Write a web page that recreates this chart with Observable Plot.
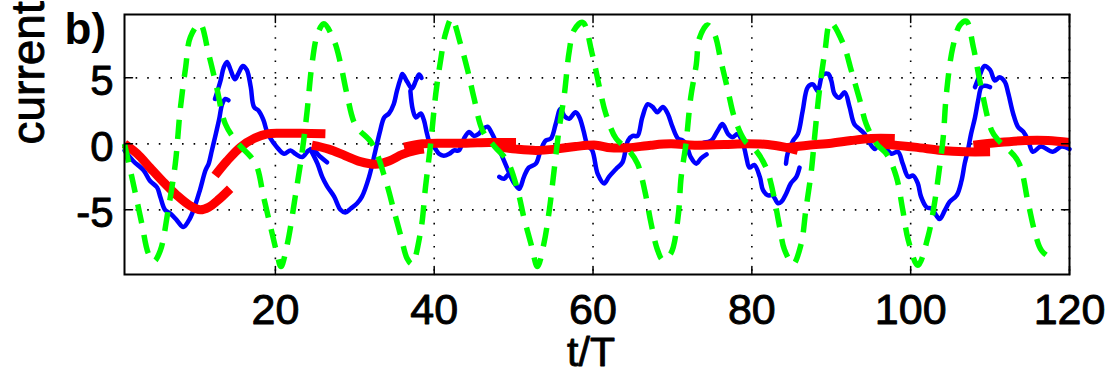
<!DOCTYPE html>
<html>
<head>
<meta charset="utf-8">
<script src="https://cdn.jsdelivr.net/npm/d3@7"></script>
<script src="https://cdn.jsdelivr.net/npm/@observablehq/plot@0.6"></script>
<style>
  html, body { margin: 0; padding: 0; background: #fff; }
  #chart { width: 1111px; height: 373px; }
</style>
</head>
<body>
<div id="chart"></div>
<script>
// ---- axis ticks ----
const xTicks = [20, 40, 60, 80, 100, 120];
const yTicks = [-5, 0, 5];
const xDomain = [1, 120];
const yDomain = [-9.9, 9.8];
const panelLabel = "b)";
const xLabel = "t/T";
const yLabel = "current";

// ---- green dashed drive (t, value) ----
const green = [
  [1,0],[2.1,-3.0],[3.2,-6.1],[4.0,-8.3],[4.7,-8.9],[5.5,-8.1],[6.5,-5.0],[7.4,-1.5],[8.0,2.5],[8.7,5.8],
  [9.3,8.1],[10.5,9.1],[11.6,6.8],[12.6,4.3],[13.7,1.5],[15.2,0.1],[17.5,-1.5],[18.5,-4.0],[19.4,-6.3],
  [20.2,-8.3],[20.7,-9.3],[21.5,-7.6],[22.5,-4.0],[23.4,-0.5],[24.0,2.5],[24.6,6.0],[25.3,8.3],[26.1,9.1],
  [27.4,7.8],[28.2,6.1],[29.0,3.8],[30.1,1.4],[32.2,0.0],[33.9,-2.8],[34.9,-5.0],[35.8,-7.0],[36.6,-8.7],
  [37.2,-9.1],[38.3,-6.6],[38.9,-3.3],[39.55,0],[40.2,3.8],[40.8,6.3],[41.4,8.3],[42.2,9.5],[43.3,7.6],
  [44.2,5.6],[45.0,3.5],[46.1,1.0],[47.6,-0.2],[49.2,-1.3],[50.5,-3.5],[51.3,-5.6],[52.2,-7.6],[53.0,-9.3],
  [53.8,-7.6],[54.5,-5.0],[55.1,-2.0],[55.7,1.0],[56.4,3.8],[57.0,7.0],[57.6,8.6],[58.7,9.2],[59.9,6.8],
  [60.8,4.3],[61.6,2.3],[62.9,0.4],[64.5,-0.5],[65.6,-1.5],[66.5,-3.5],[67.3,-6.0],[68.1,-8.0],[68.8,-8.8],
  [69.8,-8.3],[70.7,-5.6],[71.1,-2.5],[71.7,0],[72.3,3.5],[73.0,6.0],[73.4,8.0],[74.4,9.0],[75.3,8.3],
  [76.1,6.3],[77.0,4.0],[77.8,2.0],[79.1,0.25],[80.5,-0.5],[81.8,-1.8],[82.6,-3.5],[83.5,-6.3],[84.1,-8.0],
  [85.2,-9.1],[86.2,-7.6],[86.8,-5.0],[87.5,-2.0],[87.9,0.5],[88.5,4.0],[89.2,7.0],[89.9,9.2],[91.5,7.6],
  [92.5,5.6],[93.6,3.3],[94.4,1.5],[95.7,0],[97.0,-0.8],[98.2,-2.5],[99.0,-5.0],[99.7,-7.3],[100.9,-9.2],
  [102.2,-7.0],[103.0,-4.5],[103.7,-1.5],[104.1,0.5],[104.5,3.8],[105.3,7.3],[106.2,9.0],[107.0,9.3],
  [107.9,7.3],[108.7,4.8],[110.2,1.0],[111.0,0.3],[113.5,-1.3],[114.8,-4.5],[115.6,-6.6],[116.5,-8.1],[118.0,-8.8]
];

// ---- blue current, in separate pieces ----
const blue1 = [[1,-0.5],[2.1,-1.3],[3.4,-2.0],[4.2,-2.8],[5.1,-3.3],[5.5,-4.0],[6.1,-5.0],[6.8,-5.3],[7.6,-5.8],
  [8.4,-6.3],[9.1,-5.8],[9.7,-5.0],[10.5,-3.5],[11.2,-2.0],[11.6,-1.5],[12.0,-0.5],[12.4,0.5],[12.9,1.8],
  [13.3,3.0],[13.7,3.4],[14.1,3.3]];
const blue2 = [[12.4,3.4],[13.1,4.8],[13.5,5.8],[13.9,6.2],[14.3,5.7],[14.9,4.9],[15.4,5.4],[15.9,5.9],[16.4,5.6],
  [16.9,4.3],[17.3,2.8],[17.9,2.5],[18.5,1.8],[18.9,1.0],[19.4,0.4],[20.2,-0.25],[21.1,-0.75],[21.9,-0.5],
  [22.5,-0.75],[23.4,-1.0],[24.2,-0.5],[24.8,-0.5],[25.7,-1.0],[26.5,-1.4]];
const blue3 = [[24.4,-0.4],[25.3,-1.5],[25.9,-2.5],[26.5,-3.2],[27.4,-4.0],[28.2,-5.0],[28.8,-5.2],[29.5,-4.9],
  [30.3,-4.5],[30.9,-4.0],[31.8,-2.5],[32.6,-0.5],[33.2,1.0],[33.7,2.0],[34.3,2.3],[34.9,3.0],[35.3,4.0],
  [35.8,5.0],[36.0,5.3],[36.6,4.7],[37.2,4.2],[37.7,4.8],[38.1,5.25],[38.4,5.0]];
const blue4 = [[37.0,4.0],[37.3,2.6],[37.7,2.0],[38.3,2.3],[38.7,1.8],[39.1,0.75],[39.5,0],[40.0,-0.25],
  [40.6,-0.75],[41.2,-0.9],[41.9,-0.75],[42.5,-0.5],[43.1,-0.5],[43.75,0.4],[44.4,0.9],[45.0,0.6],[45.6,0.75],
  [46.1,1.1],[46.7,1.3],[47.3,0.75],[47.7,0.25],[48.6,-1.0],[49.3,-2.0],[50.0,-2.9],[50.7,-3.4]];
const blue5 = [[48.2,-2.5],[48.8,-2.65],[49.4,-2.3],[50.0,-2.9],[50.7,-3.4],[51.3,-2.5],[51.9,-1.8],[52.8,-1.5],
  [53.4,-0.5],[54.05,0.25],[54.7,0.4],[55.3,1.5],[55.9,2.65],[56.4,2.1],[57.0,1.9],[57.8,2.4],[58.3,2.0],
  [58.8,1.0],[59.3,-0.1],[59.9,-0.5],[60.6,-2.3],[61.4,-3.0],[62.0,-2.5],[62.9,-1.9],[63.7,-1.4],[64.4,0.25],
  [65.0,0.6],[65.6,0.6],[66.2,2.0],[66.9,3.0],[67.5,2.8],[68.1,2.4],[68.8,2.8],[69.4,2.3],[70.0,1.3],
  [70.7,0.4],[71.3,0.25],[71.7,0],[72.3,-1.0],[73.0,-1.5],[73.6,-1.1],[74.3,-0.8]];
const blue6 = [[74.0,0.1],[74.9,0.25],[75.7,1.0],[76.3,1.5],[77.0,0.75],[77.6,0.5],[78.2,0.75],[78.9,0],
  [79.3,-1.0],[79.7,-1.8],[80.3,-1.6],[81.0,-2.5],[81.4,-3.5],[82.0,-3.9],[82.6,-3.9],[83.3,-4.5],[83.7,-4.4],
  [84.3,-3.8],[84.9,-3.0],[85.6,-2.5],[86.0,-1.8]];
const blue7 = [[84.3,-1.5],[84.5,-0.75],[85.2,0.25],[85.8,0.75],[86.4,2.5],[87.05,4.3],[87.7,4.5],[88.3,4.0],
  [88.9,5.2],[89.6,5.3],[90.0,4.8],[90.4,3.8],[91.0,3.5],[91.7,3.9],[92.3,2.8],[92.9,1.5],[93.6,1.1],
  [94.2,0.75],[94.8,0.1],[95.5,-0.4],[96.1,0.1],[96.8,-0.3],[97.6,-0.75],[98.4,-0.6],[99.0,-1.5],[99.7,-2.5],
  [100.3,-2.4],[100.9,-3.0],[101.3,-4.0],[102.0,-4.8],[102.6,-4.9],[103.2,-5.4],[103.65,-5.7],[104.3,-5.05],
  [104.9,-4.4],[105.8,-3.9],[106.4,-2.8],[106.8,-1.5],[107.2,-0.5],[107.6,0.75],[108.1,2.0],[108.5,3.3],
  [108.9,4.3],[109.3,4.4],[110.0,4.3]];
const blue8 = [[108.1,4.3],[108.7,5.2],[109.3,5.9],[110.0,5.6],[110.6,4.8],[111.2,5.05],[111.85,4.7],[112.3,3.8],
  [112.9,2.3],[113.5,1.3],[114.2,0.9],[114.8,0.25],[115.4,-0.6],[116.4,-0.2],[117.9,-0.6],[119.0,-0.2],[120,-0.4]];

// ---- red thick averaged current, in separate pieces ----
const red1 = [[1,0],[2.6,-0.75],[4.2,-1.8],[5.9,-2.9],[7.6,-3.9],[9.3,-4.7],[10.55,-5.0],[11.6,-4.8],[12.9,-4.2],[14.3,-3.4]];
const red2 = [[12.4,-2.4],[13.9,-1.3],[15.6,-0.25],[17.3,0.4],[19.0,0.75],[20.6,0.8],[23.2,0.8],[26.3,0.76]];
const red3 = [[24.6,-0.1],[26.7,-0.4],[28.8,-0.9],[30.7,-1.35],[32.6,-1.55],[34.3,-1.3],[36.0,-0.8],[37.7,-0.5],[38.7,-0.4]];
const red4 = [[36.2,-0.25],[38.5,0],[41.0,0.05],[44.0,0.05],[46.9,0.1],[50.3,0.1]];
const red5 = [[48.2,-0.25],[50.3,-0.4],[52.8,-0.5],[55.3,-0.4],[57.8,-0.2],[60.4,-0.1],[62.2,-0.3],[64.4,-0.3],
  [67.3,-0.1],[69.8,0],[72.8,-0.1],[76.5,-0.05],[79.5,0],[82.0,-0.05],[84.1,-0.25],[85.8,-0.5]];
const red6 = [[84.3,-0.3],[87.1,-0.1],[90.0,0.05],[92.5,0.25],[95.0,0.4],[98.0,0.4]];
const red7 = [[95.9,0],[100.5,-0.25],[103.9,-0.5],[106.8,-0.6],[110.0,-0.6]];
const red8 = [[107.9,-0.1],[111.0,0.1],[114.4,0.25],[117.3,0.25],[120,0.1]];

// ---- build tables ----
const toRows = (segs) => segs.flatMap((s, i) => s.map(([t, v]) => ({t, v, seg: i})));
const blueRows = toRows([blue1, blue2, blue3, blue4, blue5, blue6, blue7, blue8]);
const redRows = toRows([red1, red2, red3, red4, red5, red6, red7, red8]);
const greenRows = toRows([green]);

const tickShape = {draw(context, l) { context.moveTo(0, 0); context.lineTo(0, -l); }};
const tickOpts = {length: 8, anchor: "start", stroke: "black", strokeWidth: 1.5, shape: tickShape};
const FONT = "'Liberation Sans', Arial, Helvetica, sans-serif";
const heavy = {fill: "black", stroke: "black", strokeWidth: 0.9, paintOrder: "stroke"};

const chart = Plot.plot({
  width: 1111,
  height: 373,
  marginLeft: 124,
  marginRight: 42,
  marginTop: 14,
  marginBottom: 99,
  x: {domain: xDomain, axis: null},
  y: {domain: yDomain, axis: null},
  style: {background: "white", fontFamily: FONT, overflow: "visible"},
  marks: [
    Plot.gridX(xTicks, {stroke: "black", strokeOpacity: 1, strokeWidth: 1.6, strokeDasharray: "1.6,10"}),
    Plot.gridY(yTicks, {stroke: "black", strokeOpacity: 1, strokeWidth: 1.6, strokeDasharray: "1.6,10"}),
    Plot.line(blueRows, {x: "t", y: "v", z: "seg", stroke: "#0000ff", strokeWidth: 4.5, curve: "catmull-rom", strokeLinejoin: "round"}),
    Plot.line(redRows, {x: "t", y: "v", z: "seg", stroke: "#ff0000", strokeWidth: 9, curve: "catmull-rom", strokeLinecap: "butt"}),
    Plot.line(greenRows, {x: "t", y: "v", z: "seg", stroke: "#00ff00", strokeWidth: 5.5, curve: "catmull-rom", strokeDasharray: "19,12", strokeLinecap: "butt"}),
    Plot.frame({stroke: "black", strokeWidth: 2}),
    Plot.vector(xTicks, {x: d => d, frameAnchor: "bottom", rotate: 0, ...tickOpts}),
    Plot.vector(xTicks, {x: d => d, frameAnchor: "top", rotate: 180, ...tickOpts}),
    Plot.vector(yTicks, {y: d => d, frameAnchor: "left", rotate: 90, ...tickOpts}),
    Plot.vector(yTicks, {y: d => d, frameAnchor: "right", rotate: -90, ...tickOpts}),
    Plot.text(xTicks, {x: d => d, frameAnchor: "bottom", text: d => String(d), lineAnchor: "bottom", dy: 49, fontSize: 43, ...heavy}),
    Plot.text(yTicks, {y: d => d, frameAnchor: "left", text: d => String(d), textAnchor: "end", lineAnchor: "bottom", dx: -11, dy: 17.5, fontSize: 42, ...heavy}),
    Plot.text([xLabel], {frameAnchor: "bottom", text: d => d, lineAnchor: "bottom", dy: 91, dx: -6, fontSize: 41, ...heavy}),
    Plot.text([yLabel], {frameAnchor: "left", text: d => d, rotate: -90, lineAnchor: "bottom", dx: -81, fontSize: 46, ...heavy}),
    Plot.text([panelLabel], {frameAnchor: "top-left", text: d => d, textAnchor: "start", lineAnchor: "bottom", dx: -60, dy: 29, fontSize: 44, fontWeight: "bold", fill: "black"})
  ]
});
document.getElementById("chart").appendChild(chart);
</script>
</body>
</html>
